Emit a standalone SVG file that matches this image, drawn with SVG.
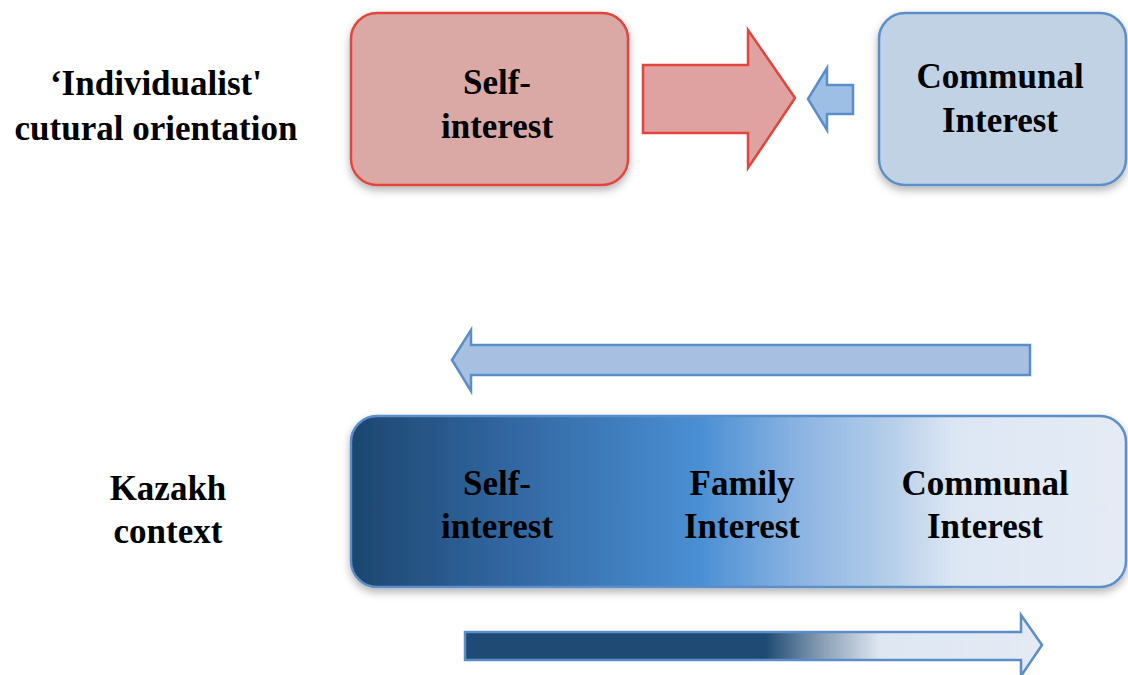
<svg xmlns="http://www.w3.org/2000/svg" width="1128" height="675" viewBox="0 0 1128 675">
<defs>
<style>
text{font-family:"Liberation Serif","Times New Roman",serif;font-weight:bold;font-size:35px;fill:#000;text-anchor:middle}
.blue{stroke:#5b8ec8;stroke-width:2.5}
</style>
<filter id="sh" x="-10%" y="-10%" width="120%" height="130%">
<feDropShadow dx="0" dy="4" stdDeviation="4" flood-color="#000" flood-opacity="0.3"/>
</filter>
<linearGradient id="bar" x1="0" y1="0" x2="1" y2="0">
<stop offset="0" stop-color="#1d466f"/>
<stop offset="0.2" stop-color="#3166a0"/>
<stop offset="0.45" stop-color="#4a8fd3"/>
<stop offset="0.58" stop-color="#8cb4e2"/>
<stop offset="0.7" stop-color="#b7cfea"/>
<stop offset="0.78" stop-color="#dde7f3"/>
<stop offset="1" stop-color="#e4ebf5"/>
</linearGradient>
<linearGradient id="arr" gradientUnits="userSpaceOnUse" x1="465" y1="0" x2="1042" y2="0">
<stop offset="0" stop-color="#1f4a73"/>
<stop offset="0.52" stop-color="#1f4a73"/>
<stop offset="0.62" stop-color="#8a9fb5"/>
<stop offset="0.72" stop-color="#dfe7f2"/>
<stop offset="1" stop-color="#e3eaf4"/>
</linearGradient>
</defs>

<g id="label-individualist">
<text x="156" y="95">‘Individualist'</text>
<text x="156" y="140">cutural orientation</text>
</g>
<g id="label-kazakh">
<text x="168" y="500">Kazakh</text>
<text x="168" y="543">context</text>
</g>

<g id="node-self-top">
<rect x="351" y="13" width="277" height="172" rx="26" fill="#dba9a5" stroke="#e2453d" stroke-width="2.5" filter="url(#sh)"/>
<text x="497" y="94">Self-</text>
<text x="497" y="138">interest</text>
</g>
<g id="node-communal-top">
<rect x="879" y="13" width="247" height="172" rx="26" fill="#c2d2e5" class="blue" filter="url(#sh)"/>
<text x="1000" y="88">Communal</text>
<text x="1000" y="132">Interest</text>
</g>

<g id="node-kazakh-bar">
<rect x="351" y="416" width="775" height="171" rx="26" fill="url(#bar)" class="blue" filter="url(#sh)"/>
<text x="497" y="495">Self-</text>
<text x="497" y="538">interest</text>
<text x="742" y="495">Family</text>
<text x="742" y="538">Interest</text>
<text x="985" y="495">Communal</text>
<text x="985" y="538">Interest</text>
</g>

<g id="connectors">
<polygon points="643,65 748,65 748,30 795,98 748,168 748,133 643,133" fill="#e0a2a0" stroke="#e2453d" stroke-width="2.5"/>
<polygon points="808,99 827,68 827,85 853,85 853,114 827,114 827,130" fill="#9dbfe6" class="blue"/>
<polygon points="452,360 471,330 471,345 1030,345 1030,375 471,375 471,391" fill="#a7c0e1" class="blue"/>
<polygon points="465,632 1021,632 1021,615 1042,645 1021,676 1021,660 465,660" fill="url(#arr)" class="blue"/>
</g>
</svg>
